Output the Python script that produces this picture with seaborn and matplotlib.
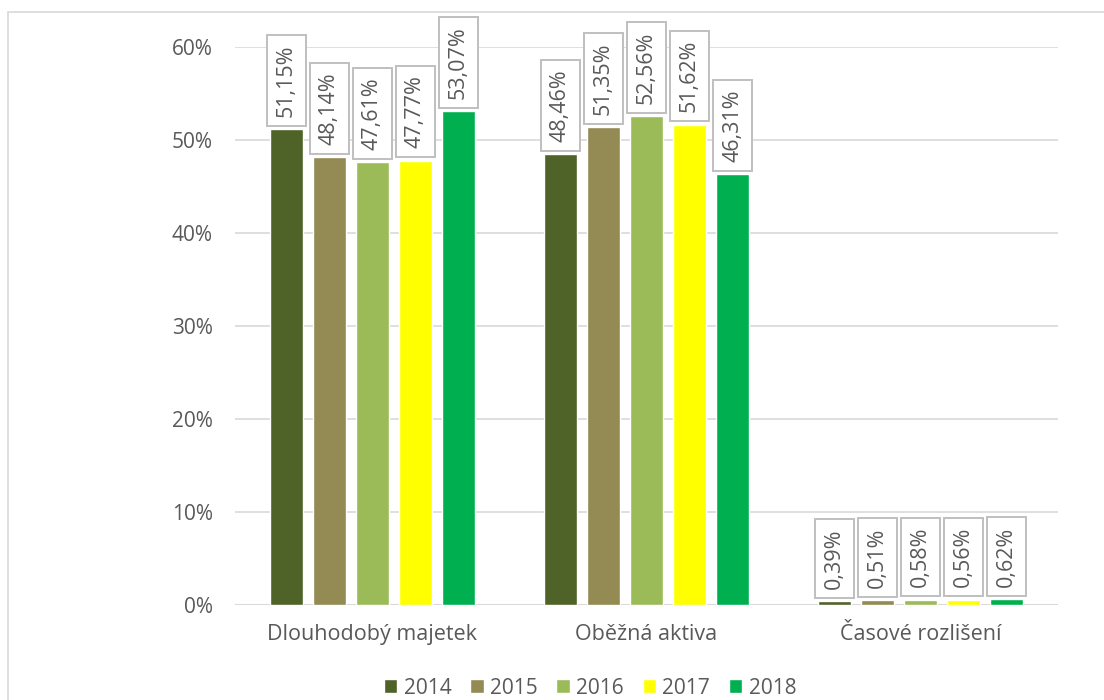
import matplotlib
matplotlib.use("Agg")
import matplotlib.pyplot as plt
import matplotlib.patches as mpatches
import pandas as pd
import seaborn as sns

categories = ["Dlouhodobý majetek", "Oběžná aktiva", "Časové rozlišení"]
years = ["2014", "2015", "2016", "2017", "2018"]
shares = {
    "2014": [51.15, 48.46, 0.39],
    "2015": [48.14, 51.35, 0.51],
    "2016": [47.61, 52.56, 0.58],
    "2017": [47.77, 51.62, 0.56],
    "2018": [53.07, 46.31, 0.62],
}
colors = ["#4f6228", "#948a54", "#9bbb59", "#ffff00", "#00b050"]

rows = []
for y in years:
    for c, v in zip(categories, shares[y]):
        rows.append({"kategorie": c, "rok": y, "podil": v / 100})
df = pd.DataFrame(rows)

sns.set_theme(style="white")
plt.rcParams["font.family"] = ["Open Sans", "DejaVu Sans"]
text_color = "#595959"

fig = plt.figure(figsize=(11.04, 7.0), dpi=100)
ax = fig.add_axes([235 / 1104, 1 - 605 / 700, (1058 - 235) / 1104, (605 - 47) / 700])

sns.barplot(data=df, x="kategorie", y="podil", hue="rok", order=categories,
            hue_order=years, palette=colors, width=0.784, gap=0.23,
            saturation=1, ax=ax, legend=True, zorder=3)

ax.set_ylim(0, 0.6)
ax.set_xlim(-0.5, 2.5)
ax.set_yticks([0, 0.1, 0.2, 0.3, 0.4, 0.5, 0.6])
ax.set_yticklabels([f"{int(t * 100)}%" for t in ax.get_yticks()],
                   color=text_color, fontsize=15)
ax.tick_params(axis="x", colors=text_color, labelsize=15.5, length=0, pad=14)
ax.tick_params(axis="y", length=0, pad=16)
ax.set_xlabel("")
ax.set_ylabel("")
ax.grid(axis="y", color="#d9d9d9", linewidth=1.2, zorder=0)
ax.set_axisbelow(True)
for s in ax.spines.values():
    s.set_visible(False)
ax.axhline(0, color="#d9d9d9", linewidth=1.5, zorder=2)

# value labels in boxes above each bar
for container, y in zip(ax.containers, years):
    for bar, v in zip(container, shares[y]):
        x = bar.get_x() + bar.get_width() / 2
        ax.annotate(f"{v:.2f}%".replace(".", ","), xy=(x, bar.get_height()),
                    xytext=(0, 9), textcoords="offset points",
                    rotation=90, ha="center", va="bottom",
                    fontsize=15.5, color=text_color, annotation_clip=False,
                    bbox=dict(boxstyle="square,pad=0.42", fc="white",
                              ec="#bfbfbf", lw=1.4), zorder=5)

handles, labels = ax.get_legend_handles_labels()
ax.legend_.remove()
fig.legend(handles, labels, loc="center", ncol=5,
           bbox_to_anchor=(590 / 1104, 1 - 688 / 700), frameon=False,
           handlelength=0.65, handleheight=0.65, handletextpad=0.3,
           columnspacing=0.9, fontsize=15, labelcolor=text_color)

# chart frame
fig.patches.append(mpatches.Rectangle((8 / 1104, -0.1), 1.2, 1.1 - 12 / 700,
                                      transform=fig.transFigure, fill=False,
                                      ec="#d9d9d9", lw=1.2))

fig.savefig("out.png", dpi=100)
